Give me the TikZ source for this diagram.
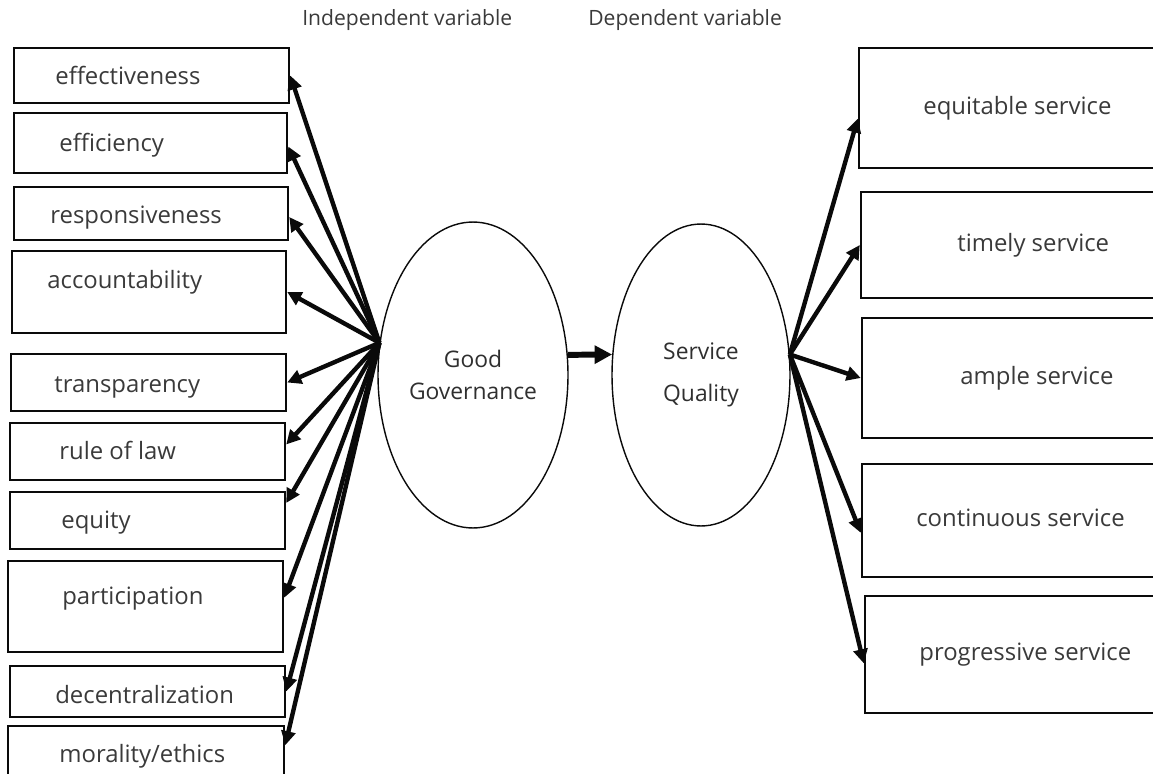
\documentclass[tikz,border=0pt]{standalone}
\usepackage{fontspec}
\setmainfont{Open Sans}
\usetikzlibrary{arrows.meta,fit,shapes.geometric}
\definecolor{ink}{HTML}{0A0A0A}
\definecolor{txt}{HTML}{3A3A3A}

\begin{document}
\begin{tikzpicture}[x=.02cm,y=-.02cm,
  box/.style={rectangle,draw=ink,line width=1.4pt,inner sep=0pt},
  lbl/.style={anchor=base west,text=txt,inner sep=0pt,font=\fontsize{13.6}{17}\selectfont},
  head/.style={anchor=base west,text=txt,inner sep=0pt,font=\fontsize{12}{14}\selectfont},
  ell/.style={ellipse,draw=ink,line width=.8pt,inner sep=0pt,align=center,text=ink!85,font=\fontsize{13}{16}\selectfont},
  arr/.style={draw=ink,line width=2.5pt,-{Triangle[length=8pt,width=8pt]}},
  link/.style={draw=ink,line width=3.4pt,-{Triangle[length=10pt,width=10pt]}}]
  \useasboundingbox (0,0) rectangle (1153,774);
  \clip (0,0) rectangle (1153,774);
  % headings
  \node[head] (indep) at (302,26) {Independent variable};
  \node[head] (dep) at (588,26) {Dependent variable};
  % left: good governance
  \node[box,fit={(14,48) (289,103)}] (eff) {};
  \node[box,fit={(14,113) (287,173)}] (effi) {};
  \node[box,fit={(14,187) (288,240)}] (resp) {};
  \node[box,fit={(12,251) (286,333)}] (acc) {};
  \node[box,fit={(11,354) (286,411)}] (trans) {};
  \node[box,fit={(10,423) (285,480)}] (law) {};
  \node[box,fit={(10,492) (285,549)}] (equity) {};
  \node[box,fit={(8,561) (283,652)}] (part) {};
  \node[box,fit={(10,666) (285,717)}] (decent) {};
  \node[box,fit={(8,726) (284,782)}] (moral) {};
  \node[lbl] (effT) at (55,84) {effectiveness};
  \node[lbl] (effiT) at (59,151) {efficiency};
  \node[lbl] (respT) at (50,223) {responsiveness};
  \node[lbl] (accT) at (47,288) {accountability};
  \node[lbl] (transT) at (54,392) {transparency};
  \node[lbl] (lawT) at (59,459) {rule of law};
  \node[lbl] (equityT) at (61,528) {equity};
  \node[lbl] (partT) at (62,604) {participation};
  \node[lbl] (decentT) at (55,703) {decentralization};
  \node[lbl] (moralT) at (59,762) {morality/ethics};
  % right: service quality
  \node[box,fit={(859,48) (1175,168)}] (equit) {};
  \node[box,fit={(861,192) (1175,298)}] (timely) {};
  \node[box,fit={(862,318) (1175,438)}] (ample) {};
  \node[box,fit={(862,464) (1175,577)}] (cont) {};
  \node[box,fit={(865,596) (1175,713)}] (prog) {};
  \node[lbl] (equitT) at (923,114) {equitable service};
  \node[lbl] (timelyT) at (957,251) {timely service};
  \node[lbl] (ampleT) at (960,384) {ample service};
  \node[lbl] (contT) at (916,526) {continuous service};
  \node[lbl] (progT) at (919,660) {progressive service};
  % the two variables
  \node[ell,minimum width=3.8cm,minimum height=6.12cm] (gg) at (473,375) {Good\\[2pt]Governance};
  \node[ell,minimum width=3.56cm,minimum height=6.04cm] (sq) at (701,375) {Service\\[8pt]Quality};
  \draw[link] (gg.12) -- (sq.167);
  % arrows to the indicators
  \draw[arr] (gg.161) -- (eff.east);
  \draw[arr] (gg.161) -- ([yshift=-2pt]effi.east);
  \draw[arr] (gg.161) -- ([yshift=-2pt]resp.east);
  \draw[arr] (gg.161) -- (acc.east);
  \draw[arr] (gg.161) -- (trans.east);
  \draw[arr] (gg.161) -- ([yshift=4pt]law.east);
  \draw[arr] (gg.161) -- ([yshift=10pt]equity.east);
  \draw[arr] (gg.161) -- ([yshift=5pt]part.east);
  \draw[arr] (gg.161) -- (decent.east);
  \draw[arr] (gg.161) -- ([yshift=5pt]moral.east);
  \draw[arr] (sq.13) -- ([yshift=-6pt]equit.west);
  \draw[arr] (sq.13) -- (timely.west);
  \draw[arr] (sq.13) -- (ample.west);
  \draw[arr] (sq.13) -- ([yshift=-7pt]cont.west);
  \draw[arr] (sq.13) -- ([yshift=-5pt]prog.west);
\end{tikzpicture}
\end{document}
